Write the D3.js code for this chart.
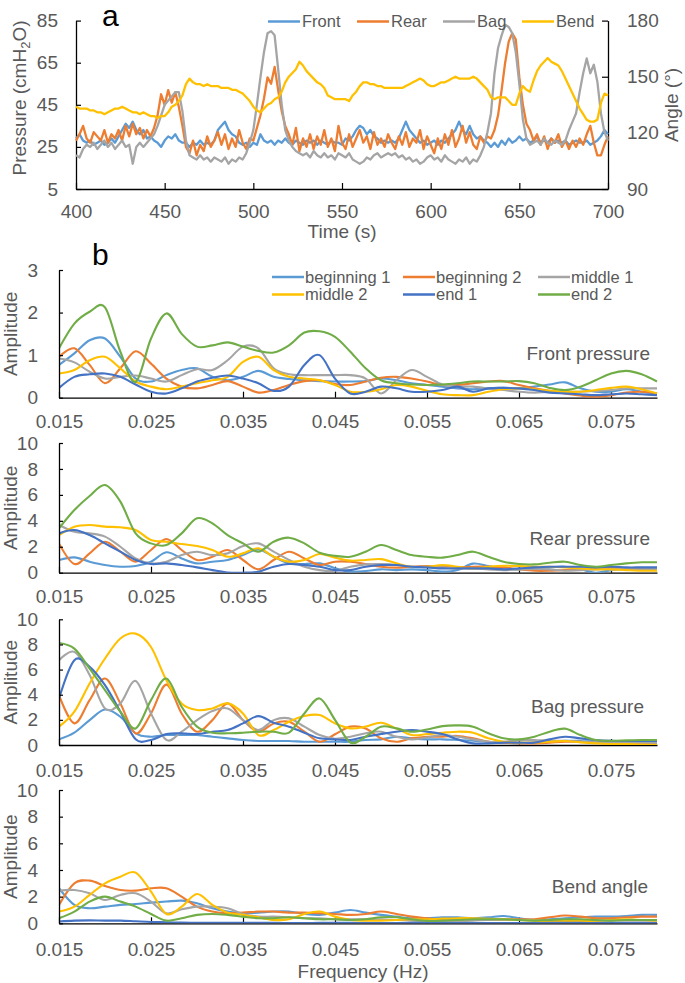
<!DOCTYPE html>
<html><head><meta charset="utf-8">
<script src="https://cdn.jsdelivr.net/npm/d3@7"></script>
<style>
html,body{margin:0;padding:0;background:#fff;}
svg{display:block;font-family:"Liberation Sans",Arial,sans-serif;}
</style></head><body>
<svg id="chart" width="685" height="983"></svg>
<script>
// ---------- Panel a data ----------
const times = [
400,402,404,406,408,410,412,414,416,418,
420,422,424,426,428,430,432,434,436,438,
440,442,444,446,448,450,452,454,456,458,
460,462,464,466,468,470,472,474,476,478,
480,482,484,486,488,490,492,494,496,498,
500,502,504,506,508,510,512,514,516,518,
520,522,524,526,528,530,532,534,536,538,
540,542,544,546,548,550,552,554,556,558,
560,562,564,566,568,570,572,574,576,578,
580,582,584,586,588,590,592,594,596,598,
600,602,604,606,608,610,612,614,616,618,
620,622,624,626,628,630,632,634,636,638,
640,642,644,646,648,650,652,654,656,658,
660,662,664,666,668,670,672,674,676,678,
680,682,684,686,688,690,692,694,696,698,
700];
const front = [
29,31,28,27,28,26,27,28,26,27,
29,27,30,33,36,34,37,33,31,33,
29,30,28,27,25,28,30,29,31,28,
27,27,25,27,26,28,26,27,26,28,
33,35,37,33,31,30,27,26,27,25,
27,26,31,28,27,28,26,28,27,29,
27,26,28,27,26,28,27,28,26,28,
27,26,28,27,27,26,29,28,30,33,
35,34,31,33,30,29,27,28,27,28,
27,29,33,37,33,31,29,27,28,26,
27,28,26,28,27,29,31,33,37,33,
31,35,31,29,30,28,27,25,27,25,
28,26,29,27,28,30,28,29,27,28,
30,27,28,27,29,27,28,27,28,26,
27,28,27,27,28,26,27,28,30,33,
31];
const rear = [
28,31,35,29,27,32,30,28,33,27,
31,29,33,28,35,30,36,31,34,29,
33,30,34,40,50,45,52,46,51,44,
35,25,22,28,21,26,23,30,25,28,
32,26,31,24,29,25,33,27,24,29,
28,34,40,48,58,55,63,52,42,35,
31,26,34,23,29,25,31,24,30,26,
33,25,29,23,35,27,24,31,25,29,
33,27,30,24,32,26,29,25,31,27,
24,30,26,32,25,29,27,33,24,30,
26,22,29,24,31,26,33,25,29,35,
27,32,26,24,30,27,30,29,33,40,
52,65,75,79,76,58,45,36,33,28,
31,26,30,24,29,27,31,25,28,24,
28,25,29,26,31,35,27,21,21,26,
30];
const bag = [
21,20,24,26,25,27,24,26,28,25,
27,24,26,28,25,26,17,25,27,25,
27,29,31,35,40,45,47,49,51,51,
42,28,21,20,19,21,19,20,18,20,
19,18,20,17,19,18,20,19,22,27,
33,45,58,70,79,80,78,62,45,33,
28,25,23,22,21,22,20,23,21,20,
22,20,21,19,22,21,20,22,19,18,
17,18,20,19,21,22,20,21,22,21,
22,20,21,19,20,18,19,17,18,20,
21,19,20,18,21,19,18,17,19,18,
20,17,19,18,21,25,32,41,60,72,
78,83,82,79,70,55,38,29,26,27,
28,26,29,27,26,28,27,26,28,33,
37,41,51,60,67,60,64,56,41,32,
28];
const bend = [
134,133,133,133,132,132,131,131,130,131,
132,133,133,134,133,132,131,131,130,131,
130,129,129,128,129,129,131,134,135,137,
140,146,149,147,146,146,145,146,145,145,
145,144,144,144,143,143,142,141,139,137,
134,132,131,133,135,136,138,139,142,147,
150,152,154,158,156,153,151,149,147,146,
144,140,139,138,138,138,138,137,140,142,
145,147,147,146,146,145,145,144,144,144,
144,144,144,145,146,147,148,149,148,146,
145,145,146,147,147,148,149,150,149,149,
149,149,150,149,147,145,143,139,138,139,
139,139,137,135,135,141,145,143,142,148,
153,156,158,160,158,157,156,153,149,145,
141,137,133,130,127,126,126,127,136,141,
140];
const aSeriesNames = ["Front","Rear","Bag","Bend"];
const aColors = ["#5B9BD5","#ED7D31","#A5A5A5","#FFC000"];
const pressureTicks = [5,25,45,65,85];
const angleTicks = [90,120,150,180];
const timeTicks = [400,450,500,550,600,650,700];

// ---------- Panel b data ----------
const freqs = [
0.01500,0.01667,0.01833,0.02000,0.02167,0.02333,0.02500,0.02667,0.02833,0.03000,
0.03167,0.03333,0.03500,0.03667,0.03833,0.04000,0.04167,0.04333,0.04500,0.04667,
0.04833,0.05000,0.05167,0.05333,0.05500,0.05667,0.05833,0.06000,0.06167,0.06333,
0.06500,0.06667,0.06833,0.07000,0.07167,0.07333,0.07500,0.07667,0.07833,0.08000];
const freqTicks = [0.015,0.025,0.035,0.045,0.055,0.065,0.075];
const bSeriesNames = ["beginning 1","beginning 2","middle 1","middle 2","end 1","end 2"];
const bColors = ["#5B9BD5","#ED7D31","#A5A5A5","#FFC000","#4472C4","#70AD47"];

// Front pressure
const fpBeg1 = [0.77,1.04,1.35,1.39,0.96,0.45,0.38,0.53,0.65,0.69,0.49,0.41,0.49,0.63,0.49,0.44,0.41,0.39,0.38,0.38,0.39,0.45,0.41,0.34,0.30,0.26,0.22,0.20,0.22,0.23,0.22,0.26,0.31,0.36,0.22,0.14,0.14,0.20,0.14,0.10];
const fpBeg2 = [0.96,1.16,0.77,0.34,0.69,1.09,0.80,0.45,0.26,0.22,0.30,0.39,0.26,0.12,0.18,0.30,0.39,0.41,0.32,0.30,0.38,0.47,0.49,0.45,0.38,0.30,0.30,0.34,0.38,0.39,0.30,0.22,0.16,0.10,0.05,0.02,0.06,0.12,0.14,0.10];
const fpMid1 = [0.92,0.83,0.61,0.45,0.49,0.52,0.45,0.38,0.53,0.67,0.65,0.88,1.20,1.16,0.69,0.55,0.53,0.53,0.53,0.53,0.45,0.10,0.41,0.65,0.49,0.31,0.26,0.26,0.22,0.18,0.14,0.12,0.14,0.14,0.14,0.16,0.18,0.22,0.22,0.22];
const fpMid2 = [0.57,0.65,0.88,0.96,0.69,0.38,0.26,0.20,0.26,0.34,0.41,0.49,0.84,0.96,0.65,0.49,0.45,0.41,0.30,0.14,0.14,0.20,0.30,0.26,0.16,0.08,0.06,0.06,0.14,0.20,0.22,0.20,0.16,0.14,0.14,0.18,0.23,0.26,0.20,0.10];
const fpEnd1 = [0.23,0.49,0.55,0.57,0.49,0.31,0.14,0.10,0.22,0.38,0.47,0.52,0.45,0.34,0.16,0.26,0.77,1.00,0.45,0.10,0.14,0.26,0.22,0.14,0.14,0.18,0.26,0.14,0.22,0.23,0.22,0.18,0.12,0.10,0.08,0.06,0.08,0.10,0.08,0.06];
const fpEnd2 = [1.16,1.74,2.02,2.12,1.08,0.37,1.39,1.98,1.50,1.20,1.23,1.30,1.20,1.10,1.06,1.23,1.53,1.56,1.43,1.08,0.69,0.41,0.34,0.31,0.30,0.31,0.34,0.38,0.38,0.38,0.39,0.34,0.23,0.18,0.26,0.41,0.57,0.63,0.55,0.38];
// Rear pressure
const rpBeg1 = [0.98,1.18,0.85,0.59,0.46,0.51,0.85,1.58,1.10,0.72,0.85,0.98,1.36,1.80,1.23,0.72,0.67,0.72,0.35,0.08,0.13,0.26,0.20,0.26,0.20,0.08,0.20,0.70,0.51,0.26,0.26,0.33,0.41,0.46,0.26,0.00,0.20,0.33,0.33,0.33];
const rpBeg2 = [2.26,0.67,1.49,2.39,1.62,0.85,1.75,2.60,1.75,0.98,1.23,1.75,0.98,0.26,0.98,1.62,1.10,0.59,0.85,0.85,0.67,0.46,0.39,0.46,0.51,0.46,0.41,0.46,0.46,0.41,0.26,0.15,0.15,0.20,0.26,0.33,0.41,0.33,0.26,0.20];
const rpMid1 = [3.68,3.16,3.03,2.78,2.00,1.10,0.72,0.85,1.36,1.62,1.36,1.49,2.06,2.26,1.62,0.98,0.46,0.20,0.15,0.46,0.64,0.67,0.59,0.46,0.46,0.41,0.33,0.33,0.26,0.20,0.26,0.28,0.26,0.15,0.20,0.26,0.26,0.26,0.26,0.26];
const rpMid2 = [2.90,3.55,3.68,3.55,3.50,3.29,2.52,2.39,2.21,2.06,1.75,1.23,1.49,1.88,1.23,0.85,0.98,1.44,1.15,0.93,0.98,1.05,0.72,0.46,0.46,0.59,0.46,0.33,0.46,0.54,0.51,0.46,0.46,0.41,0.33,0.26,0.26,0.20,0.15,0.15];
const rpEnd1 = [3.03,3.29,2.90,2.26,1.62,0.98,0.67,0.72,0.59,0.41,0.20,0.02,0.00,0.08,0.46,0.67,0.59,0.46,0.20,0.20,0.46,0.59,0.59,0.46,0.41,0.33,0.33,0.33,0.33,0.26,0.33,0.41,0.46,0.46,0.46,0.41,0.46,0.41,0.41,0.41];
const rpEnd2 = [3.42,4.83,5.91,6.76,5.48,3.03,2.26,2.13,3.03,4.19,3.80,2.90,2.26,1.62,2.39,2.70,2.26,1.54,1.30,1.23,1.62,2.13,1.75,1.36,1.23,1.16,1.36,1.62,1.23,0.85,0.67,0.64,0.77,0.85,0.59,0.46,0.59,0.72,0.80,0.80];
// Bag pressure
const bpBeg1 = [0.45,0.98,1.98,2.82,2.25,0.93,0.66,0.79,0.79,0.79,0.66,0.53,0.40,0.32,0.32,0.32,0.26,0.26,0.26,0.26,0.40,0.45,0.66,0.53,0.45,0.45,0.40,0.34,0.26,0.19,0.13,0.19,0.26,0.34,0.32,0.26,0.32,0.32,0.32,0.32];
const bpBeg2 = [3.97,1.72,3.57,5.29,3.31,0.93,2.51,4.80,2.51,1.06,1.98,3.31,1.98,1.06,1.72,1.85,1.06,0.26,0.85,1.46,1.32,0.53,0.26,0.53,0.66,0.66,0.72,0.53,0.26,0.19,0.13,0.13,0.19,0.26,0.26,0.19,0.13,0.13,0.13,0.13];
const bpMid1 = [6.75,7.41,5.56,2.91,3.31,5.10,2.51,0.40,1.06,1.98,2.70,2.91,1.98,1.19,1.98,2.12,1.46,0.79,0.50,0.66,0.93,1.06,0.66,0.45,0.60,0.79,0.66,0.45,0.26,0.26,0.40,0.40,0.34,0.34,0.26,0.21,0.21,0.19,0.19,0.19];
const bpMid2 = [1.46,2.65,4.90,6.88,8.47,8.86,7.80,5.16,3.31,2.78,2.91,3.31,2.51,0.79,1.19,1.85,2.30,2.38,1.72,1.32,1.46,1.77,1.32,0.79,0.87,0.98,1.06,0.98,0.53,0.26,0.19,0.21,0.26,0.32,0.21,0.13,0.08,0.08,0.03,0.00];
const bpEnd1 = [3.70,6.75,6.22,4.76,2.65,0.45,0.40,0.87,0.93,0.87,1.06,1.19,1.72,2.30,1.77,1.46,0.98,0.53,0.45,0.40,0.66,0.87,1.06,1.19,1.06,0.87,0.45,0.13,0.13,0.19,0.19,0.19,0.45,0.66,0.53,0.40,0.34,0.32,0.32,0.32];
const bpEnd2 = [8.12,7.67,6.08,4.37,2.65,1.32,3.57,5.29,3.04,1.46,0.98,0.93,0.98,1.06,1.06,0.98,2.51,3.70,2.00,0.20,0.66,1.46,1.32,1.06,1.24,1.50,1.56,1.46,0.93,0.53,0.45,0.66,1.06,1.30,0.79,0.40,0.34,0.37,0.40,0.40];
// Bend angle
const baBeg1 = [2.63,1.38,1.13,1.25,1.38,1.45,1.55,1.63,1.70,1.50,1.13,0.88,0.75,0.80,0.88,0.88,0.70,0.63,0.80,1.00,0.80,0.63,0.50,0.38,0.38,0.45,0.45,0.38,0.45,0.55,0.38,0.25,0.30,0.38,0.45,0.50,0.50,0.55,0.63,0.63];
const baBeg2 = [1.38,3.00,3.20,2.80,2.50,2.45,2.63,2.63,2.00,1.25,0.88,0.75,0.80,0.88,0.88,0.80,0.80,0.75,0.70,0.63,0.70,0.88,0.70,0.50,0.38,0.30,0.30,0.30,0.30,0.30,0.30,0.30,0.45,0.58,0.50,0.38,0.38,0.45,0.50,0.50];
const baMid1 = [2.45,2.50,2.25,1.75,2.13,2.25,1.63,0.75,1.05,1.25,1.25,1.13,0.70,0.50,0.50,0.45,0.38,0.38,0.30,0.30,0.30,0.30,0.25,0.20,0.18,0.18,0.18,0.20,0.25,0.25,0.25,0.20,0.18,0.18,0.18,0.18,0.18,0.20,0.20,0.20];
const baMid2 = [0.88,1.25,2.13,3.00,3.50,3.80,2.38,0.70,1.25,2.20,1.38,0.80,0.63,0.45,0.25,0.30,0.70,0.88,0.50,0.25,0.20,0.20,0.25,0.30,0.30,0.35,0.38,0.38,0.33,0.30,0.25,0.20,0.18,0.18,0.18,0.20,0.25,0.30,0.25,0.20];
const baEnd1 = [0.13,0.20,0.22,0.20,0.20,0.15,0.10,0.08,0.05,0.03,0.03,0.03,0.03,0.03,0.03,0.02,0.02,0.03,0.03,0.03,0.02,0.02,0.02,0.03,0.03,0.03,0.02,0.02,0.02,0.02,0.02,0.02,0.03,0.03,0.03,0.02,0.02,0.02,0.02,0.02];
const baEnd2 = [0.38,0.88,1.63,2.00,1.63,1.25,0.70,0.20,0.38,0.63,0.70,0.63,0.50,0.38,0.38,0.45,0.38,0.30,0.30,0.25,0.30,0.45,0.45,0.30,0.18,0.20,0.25,0.30,0.30,0.30,0.25,0.20,0.25,0.30,0.30,0.25,0.20,0.25,0.25,0.25];

const panelTitles = ["Front pressure","Rear pressure","Bag pressure","Bend angle"];
const ampTicksFront = [0,1,2,3];
const ampTicks = [0,2,4,6,8,10];

// ---------- Drawing ----------
const svg = d3.select("#chart");
const TXT = "#595959";
const FS = 19;

function styleAxis(g){
  g.attr("font-size",null).attr("font-family",null);
  g.select("path.domain").attr("stroke","#000").attr("stroke-width",1.3);
  g.selectAll(".tick line").attr("stroke","#000").attr("stroke-width",1.2);
  g.selectAll(".tick text").attr("fill",TXT).attr("font-size",FS);
}

// ===== Panel a =====
const ax = {l:76, r:608, t:20.6, b:189};
const xA = d3.scaleLinear().domain([400,700]).range([ax.l, ax.r]);
const yP = d3.scaleLinear().domain([5,85]).range([ax.b, ax.t]);
const yAng = d3.scaleLinear().domain([90,180]).range([ax.b, ax.t]);

const gA = svg.append("g");
const gxA = gA.append("g").attr("transform",`translate(0,${ax.b})`)
  .call(d3.axisBottom(xA).tickValues(timeTicks).tickSizeInner(-6).tickSizeOuter(0).tickFormat(d3.format("d")));
styleAxis(gxA);
gxA.selectAll(".tick text").attr("y",29).attr("dy",0);
const gyA = gA.append("g").attr("transform",`translate(${ax.l},0)`)
  .call(d3.axisLeft(yP).tickValues(pressureTicks).tickSizeInner(-5).tickSizeOuter(0).tickPadding(18).tickFormat(d3.format("d")));
styleAxis(gyA);
const gyA2 = gA.append("g").attr("transform",`translate(${ax.r},0)`)
  .call(d3.axisRight(yAng).tickValues(angleTicks).tickSizeInner(-6).tickSizeOuter(0).tickPadding(19).tickFormat(d3.format("d")));
styleAxis(gyA2);

const lineA = (yScale)=> d3.line().x((d,i)=>xA(times[i])).y(d=>yScale(d));
const aData = [front, rear, bag, bend];
aData.forEach((arr,k)=>{
  gA.append("path").datum(arr)
    .attr("fill","none").attr("stroke",aColors[k]).attr("stroke-width",2.3)
    .attr("stroke-linejoin","round")
    .attr("d", lineA(k===3 ? yAng : yP));
});

// legend a
const legA = [{x:268},{x:357},{x:443},{x:522}];
aSeriesNames.forEach((n,k)=>{
  const lx = legA[k].x;
  gA.append("line").attr("x1",lx).attr("x2",lx+32).attr("y1",21.5).attr("y2",21.5)
    .attr("stroke",aColors[k]).attr("stroke-width",2.5);
  gA.append("text").attr("x",lx+34).attr("y",27).attr("fill",TXT).attr("font-size",16.5).text(n);
});

// titles a
gA.append("text").attr("x",102).attr("y",26).attr("font-size",30).attr("fill","#000").text("a");
const pt = gA.append("text").attr("transform","translate(26,98) rotate(-90)")
  .attr("text-anchor","middle").attr("fill",TXT).attr("font-size",FS);
pt.append("tspan").text("Pressure (cmH");
pt.append("tspan").attr("font-size",13).attr("dy",4).text("2");
pt.append("tspan").attr("dy",-4).text("O)");
gA.append("text").attr("transform","translate(678,105) rotate(-90)")
  .attr("text-anchor","middle").attr("fill",TXT).attr("font-size",FS).text("Angle (°)");
gA.append("text").attr("x",342).attr("y",238).attr("text-anchor","middle")
  .attr("fill",TXT).attr("font-size",FS).text("Time (s)");

// ===== Panels b =====
const bL = 59, bR = 657;
const xB = d3.scaleLinear().domain([0.015,0.08]).range([bL,bR]);
const bData = [
  [fpBeg1,fpBeg2,fpMid1,fpMid2,fpEnd1,fpEnd2],
  [rpBeg1,rpBeg2,rpMid1,rpMid2,rpEnd1,rpEnd2],
  [bpBeg1,bpBeg2,bpMid1,bpMid2,bpEnd1,bpEnd2],
  [baBeg1,baBeg2,baMid1,baMid2,baEnd1,baEnd2]
];
const bLayout = [
  {top:270,   bottom:397.7, max:3,  ticks:ampTicksFront, lab:30, tx:650, ty:360},
  {top:443,   bottom:572.7, max:10, ticks:ampTicks,      lab:30, tx:650, ty:545},
  {top:619.3, bottom:745,   max:10, ticks:ampTicks,      lab:32, tx:644, ty:713},
  {top:790,   bottom:923.3, max:10, ticks:ampTicks,      lab:33, tx:648, ty:893}
];

bLayout.forEach((L,p)=>{
  const g = svg.append("g");
  const y = d3.scaleLinear().domain([0,L.max]).range([L.bottom,L.top]);
  const clipId = "clipb"+p;
  svg.append("clipPath").attr("id",clipId).append("rect")
    .attr("x",bL).attr("y",L.top-5).attr("width",bR-bL+2).attr("height",L.bottom-L.top+5);

  const gx = g.append("g").attr("transform",`translate(0,${L.bottom})`)
    .call(d3.axisBottom(xB).tickValues(freqTicks).tickSizeInner(-6).tickSizeOuter(0).tickFormat(d3.format(".3f")));
  styleAxis(gx);
  gx.selectAll(".tick text").attr("y",L.lab).attr("dy",0);

  const line = d3.line().x((d,i)=>xB(freqs[i])).y(d=>y(d)).curve(d3.curveCardinal.tension(0));
  const gl = g.append("g").attr("clip-path",`url(#${clipId})`);
  bData[p].forEach((arr,k)=>{
    gl.append("path").datum(arr).attr("fill","none").attr("stroke",bColors[k])
      .attr("stroke-width",2.1).attr("d",line);
  });

  const gy = g.append("g").attr("transform",`translate(${bL},0)`)
    .call(d3.axisLeft(y).tickValues(L.ticks).tickSizeInner(-4).tickSizeOuter(0).tickPadding(21).tickFormat(d3.format("d")));
  styleAxis(gy);

  g.append("text").attr("transform",`translate(17,${(L.top+L.bottom)/2}) rotate(-90)`)
    .attr("text-anchor","middle").attr("fill",TXT).attr("font-size",FS).text("Amplitude");
  g.append("text").attr("x",L.tx).attr("y",L.ty).attr("text-anchor","end")
    .attr("fill",TXT).attr("font-size",FS).text(panelTitles[p]);
});

// legend b
const legBX = [272,403,538];
const legBY = [277,294.5];
bSeriesNames.forEach((n,k)=>{
  const col = k%3, row = Math.floor(k/3);
  const lx = legBX[col], ly = legBY[row];
  svg.append("line").attr("x1",lx).attr("x2",lx+32).attr("y1",ly).attr("y2",ly)
    .attr("stroke",bColors[k]).attr("stroke-width",2.5);
  svg.append("text").attr("x",lx+33).attr("y",ly+5.5).attr("fill",TXT).attr("font-size",16.5).text(n);
});
svg.append("text").attr("x",92).attr("y",265).attr("font-size",30).attr("fill","#000").text("b");
svg.append("text").attr("x",363).attr("y",978).attr("text-anchor","middle")
  .attr("fill",TXT).attr("font-size",FS).text("Frequency (Hz)");
</script>
</body></html>
